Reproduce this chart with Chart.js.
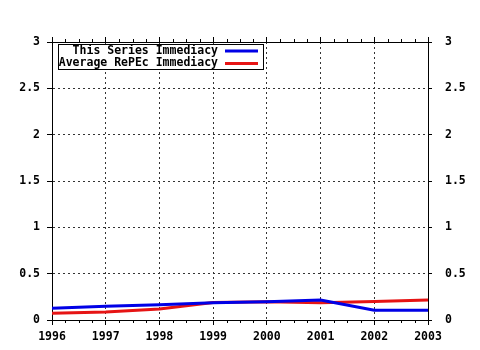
<!DOCTYPE html>
<html>
<head>
<meta charset="utf-8">
<script src="https://cdn.jsdelivr.net/npm/chart.js@4/dist/chart.umd.min.js"></script>
<style>
  html, body { margin: 0; padding: 0; background: #fff; }
  canvas { display: block; }
</style>
</head>
<body>
<canvas id="chart" width="480" height="350"></canvas>
<script>
// ================== Data ==================
const years = [1996, 1997, 1998, 1999, 2000, 2001, 2002, 2003];
const seriesImmediacy = [0.126, 0.148, 0.165, 0.187, 0.198, 0.215, 0.105, 0.105];
const repecImmediacy = [0.072, 0.086, 0.119, 0.190, 0.198, 0.187, 0.200, 0.215];
const seriesLabels = ["This Series Immediacy", "Average RePEc Immediacy"];
const yMin = 0, yMax = 3, yStep = 0.5;

const FONT = { family: "'DejaVu Sans Mono', monospace", size: 11.5, weight: 'bold' };

// small ticks every quarter year, top and bottom
const minorTicks = {
    id: 'minorTicks',
    afterDraw(chart) {
        const ctx = chart.ctx;
        const x = chart.scales.x;
        const area = chart.chartArea;
        ctx.save();
        ctx.strokeStyle = '#000';
        ctx.lineWidth = 1;
        ctx.beginPath();
        for (let v = years[0]; v <= years[years.length - 1]; v += 0.25) {
            if (Number.isInteger(v)) continue;
            const px = Math.round(x.getPixelForValue(v)) + 0.5;
            ctx.moveTo(px, area.bottom);
            ctx.lineTo(px, area.bottom + 3);
            ctx.moveTo(px, area.top);
            ctx.lineTo(px, area.top - 3);
        }
        ctx.stroke();
        ctx.restore();
    }
};

// legend box inside the plot, text right aligned with the line sample on the right
const boxLegend = {
    id: 'boxLegend',
    afterDatasetsDraw(chart) {
        const ctx = chart.ctx;
        const left = 58, top = 44, right = 264, bottom = 70;
        ctx.save();
        ctx.fillStyle = '#fff';
        ctx.fillRect(left, top, right - left, bottom - top);
        ctx.font = `${FONT.weight} ${FONT.size}px ${FONT.family}`;
        ctx.textAlign = 'right';
        ctx.textBaseline = 'middle';
        chart.data.datasets.forEach((ds, i) => {
            const cy = 51 + i * 12.5;
            ctx.fillStyle = '#000';
            ctx.fillText(ds.label, 218, cy);
            ctx.strokeStyle = ds.borderColor;
            ctx.lineWidth = 3;
            ctx.beginPath();
            ctx.moveTo(225, cy);
            ctx.lineTo(258, cy);
            ctx.stroke();
        });
        ctx.strokeStyle = '#000';
        ctx.lineWidth = 1;
        ctx.strokeRect(left + 0.5, top + 0.5, right - left - 1, bottom - top - 1);
        ctx.restore();
    }
};

function fixSize(w, h) {
    return function (scale) {
        if (w !== null) scale.width = w;
        if (h !== null) scale.height = h;
    };
}

const yLabel = v => String(Math.round(v * 10) / 10);

new Chart(document.getElementById('chart'), {
    type: 'line',
    data: {
        datasets: [{
            label: seriesLabels[0],
            data: years.map((y, i) => ({ x: y, y: seriesImmediacy[i] })),
            borderColor: '#0000e6',
            borderWidth: 3,
            pointRadius: 0,
            tension: 0,
            fill: false
        }, {
            label: seriesLabels[1],
            data: years.map((y, i) => ({ x: y, y: repecImmediacy[i] })),
            borderColor: '#e61414',
            borderWidth: 3,
            pointRadius: 0,
            tension: 0,
            fill: false
        }]
    },
    options: {
        responsive: false,
        animation: false,
        layout: { padding: 0 },
        plugins: { legend: { display: false }, tooltip: { enabled: false } },
        scales: {
            x: {
                type: 'linear', position: 'bottom',
                min: years[0], max: years[years.length - 1],
                afterFit: fixSize(null, 30),
                ticks: { stepSize: 1, color: '#000', font: FONT, padding: 5, callback: v => String(v) },
                grid: { color: '#333', tickColor: '#000', tickLength: 5 },
                border: { color: '#000', width: 1, dash: [2, 3] }
            },
            x2: {
                type: 'linear', position: 'top',
                min: years[0], max: years[years.length - 1],
                afterFit: fixSize(null, 42),
                ticks: { stepSize: 1, display: false },
                grid: { drawOnChartArea: false, tickColor: '#000', tickLength: 5 },
                border: { color: '#000', width: 1 }
            },
            y: {
                position: 'left', min: yMin, max: yMax,
                afterFit: fixSize(52, null),
                ticks: { stepSize: yStep, color: '#000', font: FONT, padding: 7, callback: yLabel },
                grid: { color: '#333', tickColor: '#000', tickLength: 5 },
                border: { color: '#000', width: 1, dash: [2, 3] }
            },
            y2: {
                position: 'right', min: yMin, max: yMax,
                afterFit: fixSize(52, null),
                ticks: { stepSize: yStep, color: '#000', font: FONT, padding: 13, callback: yLabel },
                grid: { drawOnChartArea: false, tickColor: '#000', tickLength: 4 },
                border: { color: '#000', width: 1 }
            }
        }
    },
    plugins: [minorTicks, boxLegend]
});
</script>
</body>
</html>
